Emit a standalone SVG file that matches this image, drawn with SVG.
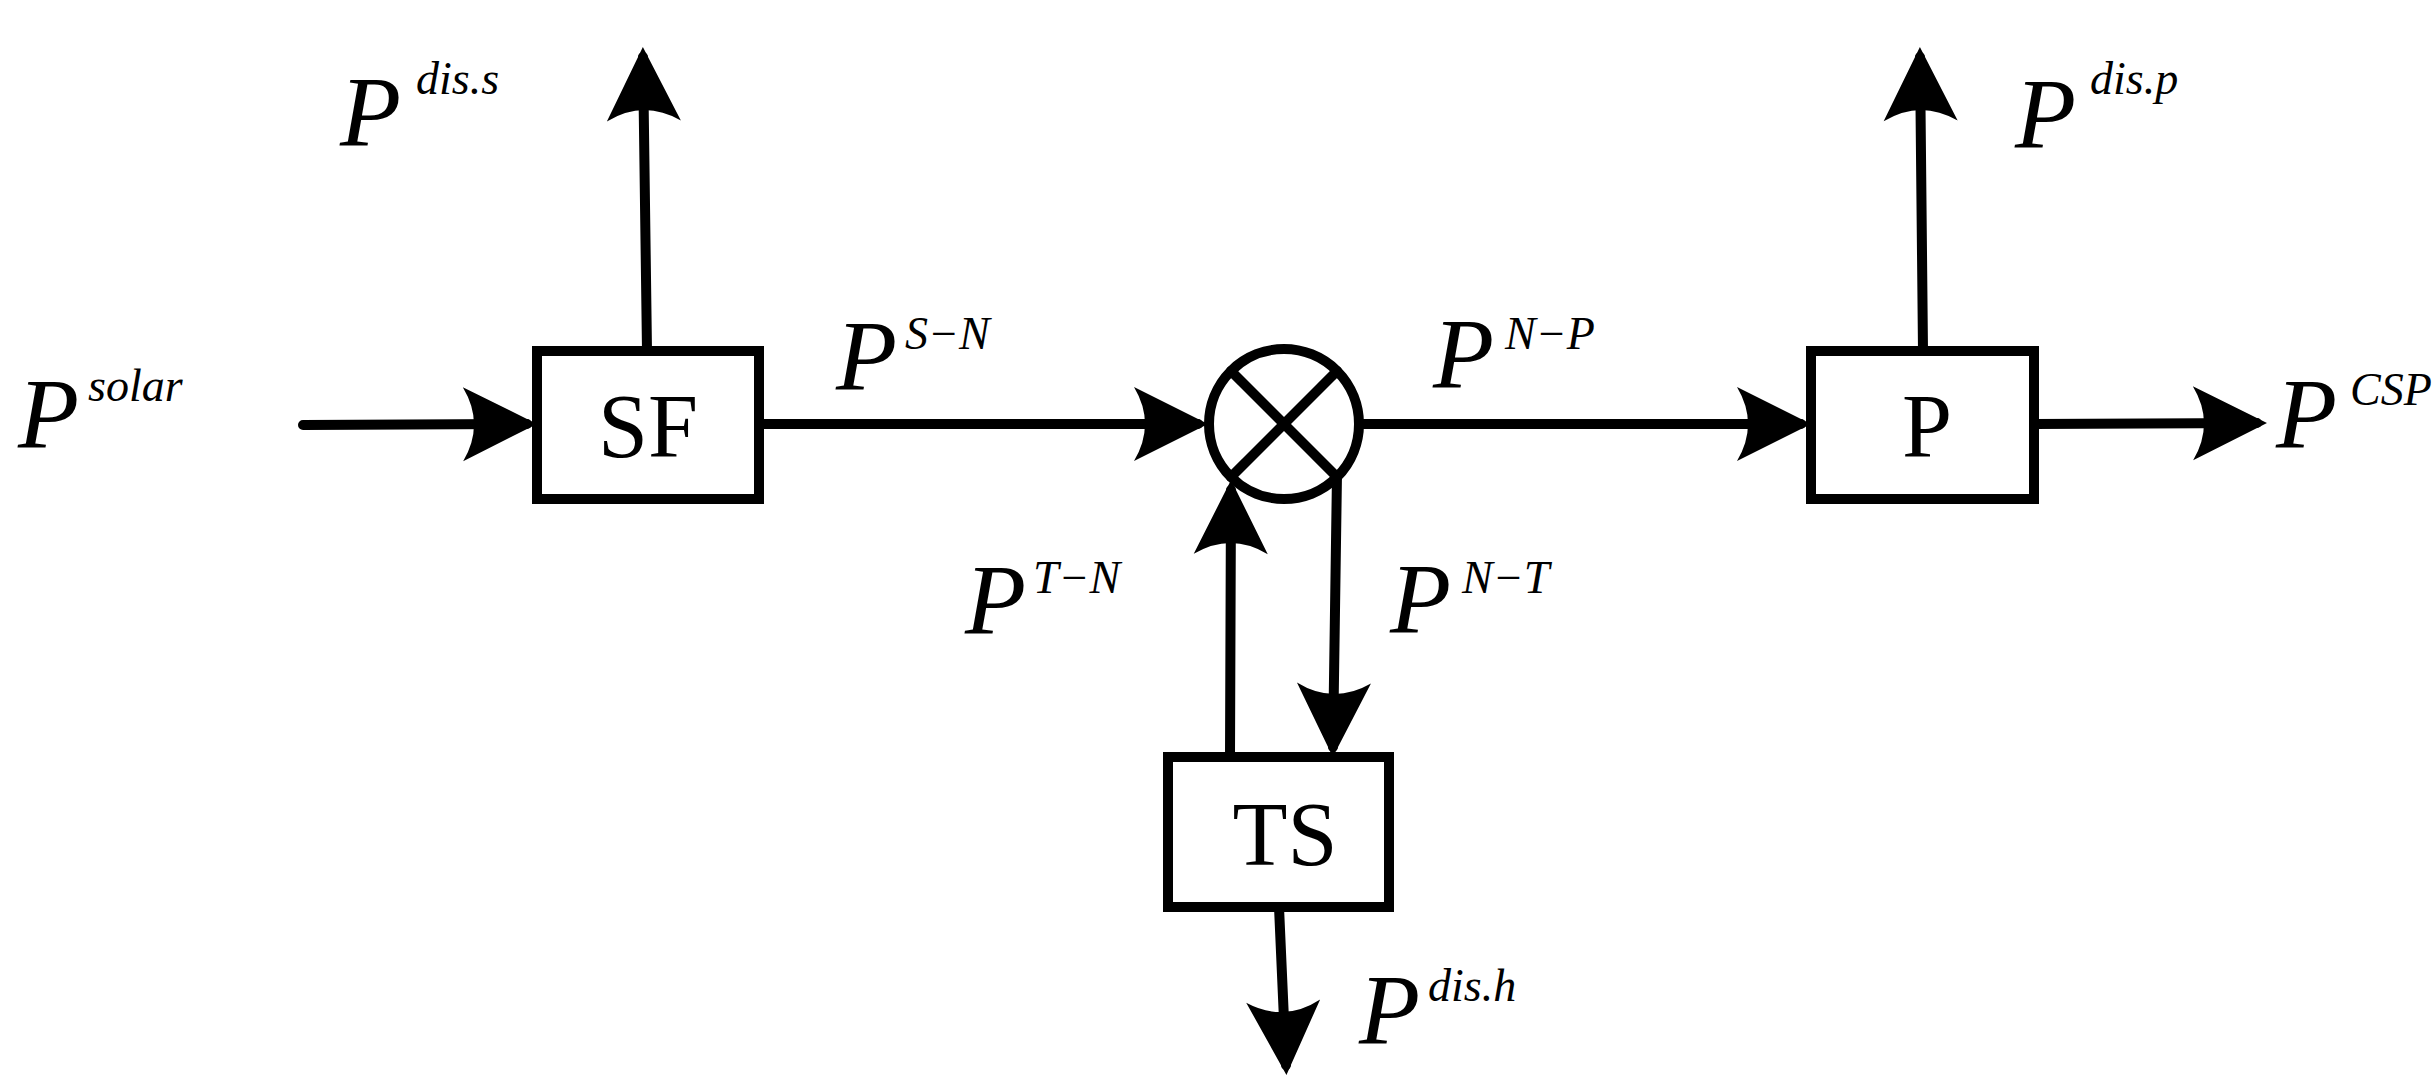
<svg xmlns="http://www.w3.org/2000/svg" width="2434" height="1091" viewBox="0 0 2434 1091">
<style>
.box{fill:#fff;stroke:#000;stroke-width:10}
.ln{fill:none;stroke:#000;stroke-width:10;stroke-linecap:round}
.lbl{font-family:"Liberation Serif","Times New Roman",serif;font-size:90px;fill:#000}
.v{font-family:"Liberation Serif","Times New Roman",serif;font-style:italic;font-size:100px;fill:#000}
.s{font-size:46px}
</style>
<defs>
<marker id="ah" markerUnits="userSpaceOnUse" orient="auto" refX="64" refY="0" markerWidth="80" markerHeight="80" overflow="visible">
<path d="M74,0 L0,-37 Q22,0 0,37 Z" fill="#000"/>
</marker>
</defs>
<rect width="2434" height="1091" fill="#fff"/>
<g id="connectors">
<line class="ln" x1="303" y1="425" x2="527" y2="424" marker-end="url(#ah)"/>
<line class="ln" x1="647" y1="351" x2="643" y2="57" marker-end="url(#ah)"/>
<line class="ln" x1="759" y1="424" x2="1198" y2="424" marker-end="url(#ah)"/>
<line class="ln" x1="1361" y1="424" x2="1801" y2="424" marker-end="url(#ah)"/>
<line class="ln" x1="1923" y1="351" x2="1920" y2="57" marker-end="url(#ah)"/>
<line class="ln" x1="2034" y1="424" x2="2257" y2="423" marker-end="url(#ah)"/>
<line class="ln" x1="1230" y1="757" x2="1231" y2="490" marker-end="url(#ah)"/>
<line class="ln" x1="1337" y1="474" x2="1333" y2="747" marker-end="url(#ah)"/>
<line class="ln" x1="1279" y1="907" x2="1286" y2="1065" marker-end="url(#ah)"/>
</g>
<g id="node-SF">
<rect class="box" x="537" y="351" width="222" height="148"/>
<text class="lbl" x="648" y="457" text-anchor="middle">SF</text>
</g>
<g id="node-N">
<circle cx="1284" cy="424" r="75" fill="#fff" stroke="#000" stroke-width="10"/>
<line class="ln" x1="1231" y1="371" x2="1337" y2="477"/>
<line class="ln" x1="1337" y1="371" x2="1231" y2="477"/>
</g>
<g id="node-P">
<rect class="box" x="1811" y="351" width="223" height="148"/>
<text class="lbl" x="1927" y="457" text-anchor="middle">P</text>
</g>
<g id="node-TS">
<rect class="box" x="1168" y="757" width="221" height="150"/>
<text class="lbl" x="1285" y="865" text-anchor="middle">TS</text>
</g>
<g id="labels">
<text class="v" x="18" y="447">P<tspan class="s" x="88" y="401">solar</tspan></text>
<text class="v" x="340" y="145">P<tspan class="s" x="416" y="94">dis.s</tspan></text>
<text class="v" x="836" y="389">P<tspan class="s" x="905" y="349">S−N</tspan></text>
<text class="v" x="965" y="633">P<tspan class="s" x="1033" y="593">T−N</tspan></text>
<text class="v" x="1433" y="387">P<tspan class="s" x="1505" y="349">N−P</tspan></text>
<text class="v" x="1390" y="632">P<tspan class="s" x="1462" y="593">N−T</tspan></text>
<text class="v" x="2015" y="147">P<tspan class="s" x="2090" y="94">dis.p</tspan></text>
<text class="v" x="2276" y="447">P<tspan class="s" x="2350" y="405">CSP</tspan></text>
<text class="v" x="1359" y="1043">P<tspan class="s" x="1428" y="1001">dis.h</tspan></text>
</g>
</svg>
